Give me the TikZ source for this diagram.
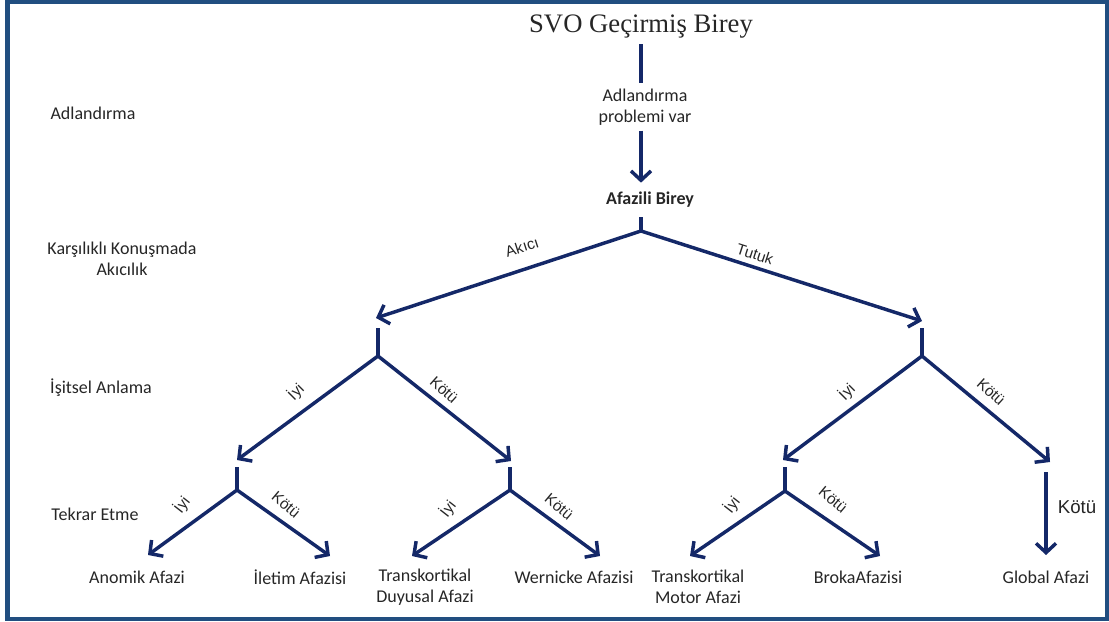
\documentclass[tikz,border=0pt]{standalone}
\usepackage{fontspec}
\setmainfont{Carlito}
\newfontfamily\arialf{Liberation Sans}
\newfontfamily\timesf{Liberation Serif}
\usetikzlibrary{arrows.meta}
\definecolor{navy}{RGB}{20,40,104}
\definecolor{framec}{RGB}{33,78,128}
\tikzset{
  arr/.style={draw=navy, line width=2.6pt, -{Straight Barb[length=7pt,width=15pt]}},
  stem/.style={draw=navy, line width=2.6pt},
  txt/.style={font=\fontsize{13.5}{15.5}\selectfont, text=black!85, align=center, inner sep=1pt},
  lbl/.style={font=\arialf\fontsize{11.5}{13}\selectfont, text=black!85, inner sep=1pt}
}

\begin{document}
\begin{tikzpicture}[x=0.75pt,y=-0.75pt]
\useasboundingbox (0,0) rectangle (1109,621);
\draw[framec, line width=3.2pt] (7.5,1.5) rectangle (1107,619);

\node[font=\timesf\fontsize{20}{24}\selectfont, text=black!85, inner sep=4pt] (T) at (641,27) {SVO Geçirmiş Birey};
\node[txt, inner ysep=4pt] (P) at (645,107) {Adlandırma\\problemi var};
\node[txt, font=\fontsize{13.5}{15.5}\selectfont\bfseries, inner ysep=7pt] (AB) at (650,200) {Afazili Birey};

\node[txt] (N1) at (93,113) {Adlandırma};
\node[txt] (N2) at (122,259) {Karşılıklı Konuşmada\\Akıcılık};
\node[txt] (N3) at (101,388) {İşitsel Anlama};
\node[txt] (N4) at (95,514) {Tekrar Etme};

\node[txt] (L1) at (137,577) {Anomik Afazi};
\node[txt] (L2) at (300,577) {İletim Afazisi};
\node[txt] (L3) at (425,587) {Transkortikal\\Duyusal Afazi};
\node[txt] (L4) at (574,577) {Wernicke Afazisi};
\node[txt] (L5) at (698,587) {Transkortikal\\Motor Afazi};
\node[txt] (L6) at (858,577) {BrokaAfazisi};
\node[txt] (L7) at (1046,577) {Global Afazi};

\coordinate (b0) at (641,231);
\coordinate (t1) at (376,318);
\coordinate (t2) at (922,321);
\coordinate (u1) at (378,328);
\coordinate (b1) at (378,356);
\coordinate (u2) at (922,328);
\coordinate (b2) at (922,356);
\coordinate (t11) at (237,460);
\coordinate (t12) at (511,461);
\coordinate (t21) at (783,460);
\coordinate (t22) at (1050,462);
\coordinate (u11) at (237,467);
\coordinate (b11) at (237,490);
\coordinate (u12) at (510,467);
\coordinate (b12) at (510,490);
\coordinate (u21) at (785,467);
\coordinate (b21) at (785,491);
\coordinate (u22) at (1046,472);
\coordinate (e1) at (148,555);
\coordinate (e2) at (330,556);
\coordinate (e3) at (412,556);
\coordinate (e4) at (600,556);
\coordinate (e5) at (690,556);
\coordinate (e6) at (880,556);
\coordinate (e7) at (1046,555);

\draw[stem] (T.south) -- (T.south |- P.north);
\draw[arr] (P.south -| T.south) -- (T.south |- AB.north);
\draw[stem] (b0 |- AB.south) -- (b0);

\draw[arr] (b0) -- (t1);
\draw[arr] (b0) -- (t2);
\draw[stem] (u1) -- (b1);
\draw[stem] (u2) -- (b2);

\draw[arr] (b1) -- (t11);
\draw[arr] (b1) -- (t12);
\draw[arr] (b2) -- (t21);
\draw[arr] (b2) -- (t22);
\draw[stem] (u11) -- (b11);
\draw[stem] (u12) -- (b12);
\draw[stem] (u21) -- (b21);

\draw[arr] (b11) -- (e1);
\draw[arr] (b11) -- (e2);
\draw[arr] (b12) -- (e3);
\draw[arr] (b12) -- (e4);
\draw[arr] (b21) -- (e5);
\draw[arr] (b21) -- (e6);
\draw[arr] (u22) -- (e7);

\node[lbl, rotate=18] (A1) at (522,247) {Akıcı};
\node[lbl, rotate=-18] (A2) at (755,254) {Tutuk};

\node[lbl, rotate=45] (A3) at (296,392) {İyi};
\node[lbl, rotate=-42] (A4) at (444,390) {Kötü};
\node[lbl, rotate=45] (A5) at (847,392) {İyi};
\node[lbl, rotate=-42] (A6) at (991,392) {Kötü};

\node[lbl, rotate=52] (A7) at (182,505) {İyi};
\node[lbl, rotate=-40] (A8) at (286,505) {Kötü};
\node[lbl, rotate=52] (A9) at (448,509) {İyi};
\node[lbl, rotate=-40] (A10) at (559,507) {Kötü};
\node[lbl, rotate=52] (A11) at (732,505) {İyi};
\node[lbl, rotate=-40] (A12) at (833,500) {Kötü};
\node[lbl, font=\arialf\fontsize{14}{16}\selectfont] (A13) at (1077,507) {Kötü};
\end{tikzpicture}
\end{document}
